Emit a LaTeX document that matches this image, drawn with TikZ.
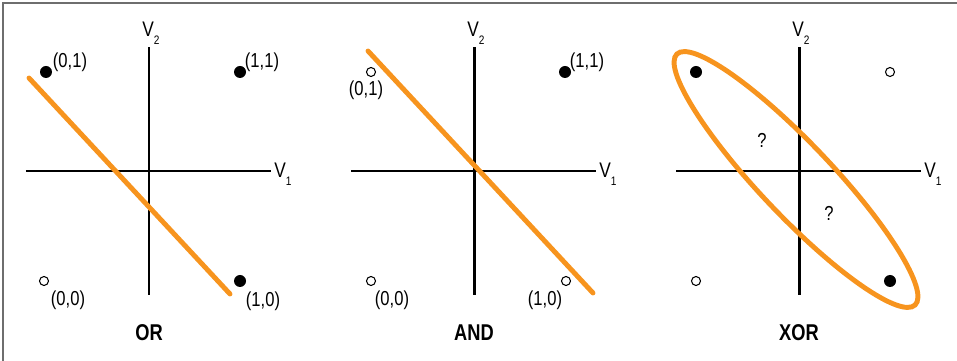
\documentclass[tikz,border=0pt]{standalone}
\usepackage{fontspec}
\setmainfont{Liberation Sans}[FakeStretch=0.82, BoldFeatures={FakeStretch=0.8}]
\usepackage{xcolor}
\usetikzlibrary{positioning}
\definecolor{sep-orange}{RGB}{247,148,30}
\definecolor{frame-gray}{RGB}{110,110,110}
\newcommand{\vsub}[1]{\raisebox{-4.5pt}{\fontsize{7}{8}\selectfont #1}}

\tikzset{
  axis/.style={line width=1.7pt, black},
  sep/.style={line width=2.8pt, sep-orange, line cap=round},
  truept/.style={circle, fill=black, inner sep=0pt, minimum size=0.24cm},
  falsept/.style={circle, draw=black, line width=0.6pt, fill=white, inner sep=0pt, minimum size=0.18cm},
  coord/.style={font=\fontsize{11.5}{13}\selectfont, inner sep=0pt},
  var/.style={font=\fontsize{12}{14}\selectfont, inner sep=0pt},
  gate/.style={font=\fontsize{13}{15}\selectfont\bfseries, inner sep=0pt}
}

\begin{document}
\begin{tikzpicture}
  \useasboundingbox (0,0) rectangle (19.14,7.22);
  \draw[frame-gray, line width=0.8pt] (0.06,0) -- (0.06,7.16) -- (19.14,7.16);

  % OR
  \begin{scope}[shift={(2.98,3.80)}]
    \coordinate (or-w) at (-2.46,0);
    \coordinate (or-e) at (2.44,0);
    \coordinate (or-s) at (0,-2.48);
    \coordinate (or-n) at (0,2.48);
    \draw[axis] (or-w) -- (or-e);
    \draw[axis] (or-s) -- (or-n);
    \node[var, anchor=base west] (or-v1) at (2.50,-0.14) {V\vsub{1}};
    \node[var, anchor=base west] (or-v2) at (-0.14,2.68) {V\vsub{2}};
    \coordinate (or-a) at (-2.40,1.86);
    \coordinate (or-b) at (1.62,-2.46);
    \draw[sep] (or-a) -- (or-b);
    \node[truept] (or-01) at (-2.06,1.98) {};
    \node[truept] (or-11) at (1.82,1.98) {};
    \node[falsept] (or-00) at (-2.10,-2.20) {};
    \node[truept] (or-10) at (1.82,-2.20) {};
    \node[coord] (or-l01) at (-1.58,2.18) {(0,1)};
    \node[coord] (or-l11) at (2.26,2.18) {(1,1)};
    \node[coord] (or-l00) at (-1.62,-2.58) {(0,0)};
    \node[coord] (or-l10) at (2.28,-2.60) {(1,0)};
    \node[gate] (or-title) at (0,-3.24) {OR};
  \end{scope}

  % AND
  \begin{scope}[shift={(9.48,3.80)}]
    \coordinate (and-w) at (-2.46,0);
    \coordinate (and-e) at (2.44,0);
    \coordinate (and-s) at (0,-2.48);
    \coordinate (and-n) at (0,2.48);
    \draw[axis] (and-w) -- (and-e);
    \draw[axis] (and-s) -- (and-n);
    \node[var, anchor=base west] (and-v1) at (2.50,-0.14) {V\vsub{1}};
    \node[var, anchor=base west] (and-v2) at (-0.14,2.68) {V\vsub{2}};
    \coordinate (and-a) at (-2.12,2.40);
    \coordinate (and-b) at (2.38,-2.44);
    \draw[sep] (and-a) -- (and-b);
    \node[falsept] (and-01) at (-2.06,1.98) {};
    \node[truept] (and-11) at (1.82,1.98) {};
    \node[falsept] (and-00) at (-2.06,-2.20) {};
    \node[falsept] (and-10) at (1.84,-2.20) {};
    \node[coord] (and-l01) at (-2.16,1.62) {(0,1)};
    \node[coord] (and-l11) at (2.26,2.18) {(1,1)};
    \node[coord] (and-l00) at (-1.64,-2.58) {(0,0)};
    \node[coord] (and-l10) at (1.42,-2.58) {(1,0)};
    \node[gate] (and-title) at (0,-3.24) {AND};
  \end{scope}

  % XOR
  \begin{scope}[shift={(15.98,3.80)}]
    \coordinate (xor-w) at (-2.46,0);
    \coordinate (xor-e) at (2.44,0);
    \coordinate (xor-s) at (0,-2.48);
    \coordinate (xor-n) at (0,2.48);
    \draw[axis] (xor-w) -- (xor-e);
    \draw[axis] (xor-s) -- (xor-n);
    \node[var, anchor=base west] (xor-v1) at (2.50,-0.14) {V\vsub{1}};
    \node[var, anchor=base west] (xor-v2) at (-0.14,2.68) {V\vsub{2}};
    \coordinate (xor-c) at (-0.06,-0.17);
    \draw[sep, rotate around={-46.5:(xor-c)}] (xor-c) ellipse [x radius=3.46, y radius=0.72];
    \node[truept] (xor-01) at (-2.06,1.98) {};
    \node[falsept] (xor-11) at (1.82,1.98) {};
    \node[falsept] (xor-00) at (-2.06,-2.20) {};
    \node[truept] (xor-10) at (1.82,-2.20) {};
    \node[coord] (xor-q1) at (-0.74,0.62) {?};
    \node[coord] (xor-q2) at (0.60,-0.84) {?};
    \node[gate] (xor-title) at (0,-3.24) {XOR};
  \end{scope}
\end{tikzpicture}
\end{document}
